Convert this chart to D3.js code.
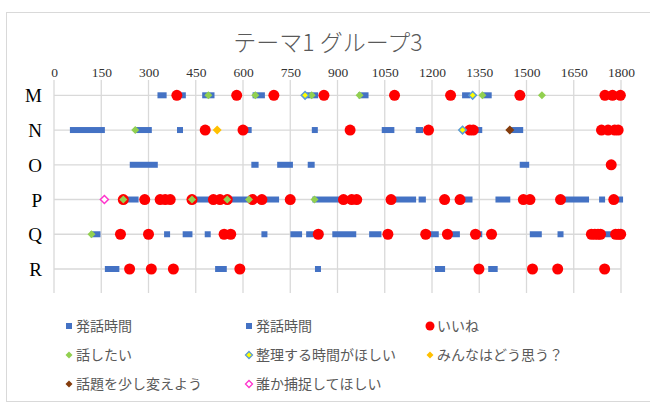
<!DOCTYPE html>
<meta charset="utf-8">
<script src="https://d3js.org/d3.v7.min.js"></script>
<style>
  body { margin: 0; background: #fff; }
</style>
<body>
<div id="my_dataviz"></div>
<script>

// categories (rows) and x ticks
var categories = ["M", "N", "O", "P", "Q", "R"];
var xTicks = [0, 150, 300, 450, 600, 750, 900, 1050, 1200, 1350, 1500, 1650, 1800];

// 発話時間 : [row, start, end]
var speechA = [
  ["M", 338, 348], ["M", 395, 409], ["M", 480, 500], ["M", 640, 660], ["M", 805, 829],
  ["M", 975, 989], ["M", 1305, 1312], ["M", 1370, 1380],
  ["N", 60, 152], ["N", 265, 301], ["N", 400, 400], ["N", 600, 618], ["N", 828, 828],
  ["N", 1050, 1071], ["N", 1158, 1162], ["N", 1330, 1350], ["N", 1452, 1480],
  ["O", 250, 320], ["O", 636, 640], ["O", 718, 749], ["O", 815, 818], ["O", 1488, 1499]
];
var speechB = [
  ["P", 225, 259], ["P", 440, 705], ["P", 830, 935], ["P", 1070, 1140], ["P", 1167, 1171],
  ["P", 1290, 1319], ["P", 1411, 1439], ["P", 1620, 1689], ["P", 1740, 1740], ["P", 1777, 1797],
  ["Q", 125, 138], ["Q", 359, 359], ["Q", 418, 430], ["Q", 488, 488], ["Q", 668, 668],
  ["Q", 760, 778], ["Q", 810, 845], ["Q", 893, 950], ["Q", 1010, 1030], ["Q", 1190, 1212],
  ["Q", 1255, 1279], ["Q", 1338, 1350], ["Q", 1520, 1539], ["Q", 1608, 1608], ["Q", 1735, 1775],
  ["R", 171, 198], ["R", 521, 539], ["R", 838, 838], ["R", 1219, 1232], ["R", 1388, 1399]
];

// いいね
var likes = [
  ["M", 390], ["M", 580], ["M", 698], ["M", 857], ["M", 1081], ["M", 1259], ["M", 1479], ["M", 1749], ["M", 1773], ["M", 1798],
  ["N", 480], ["N", 600], ["N", 940], ["N", 1189], ["N", 1320], ["N", 1331], ["N", 1738], ["N", 1759], ["N", 1780], ["N", 1791],
  ["O", 1769],
  ["P", 220], ["P", 288], ["P", 337], ["P", 353], ["P", 369], ["P", 438], ["P", 506], ["P", 527], ["P", 550], ["P", 630],
  ["P", 660], ["P", 750], ["P", 919], ["P", 945], ["P", 961], ["P", 1070], ["P", 1240], ["P", 1289], ["P", 1490], ["P", 1511],
  ["P", 1608], ["P", 1777],
  ["Q", 211], ["Q", 300], ["Q", 540], ["Q", 561], ["Q", 839], ["Q", 1060], ["Q", 1180], ["Q", 1249], ["Q", 1338], ["Q", 1389],
  ["Q", 1706], ["Q", 1717], ["Q", 1727], ["Q", 1735], ["Q", 1783], ["Q", 1792], ["Q", 1799],
  ["R", 240], ["R", 309], ["R", 379], ["R", 590], ["R", 1349], ["R", 1519], ["R", 1599], ["R", 1748]
];
// 話したい
var wantTalk = [["M", 490], ["M", 639], ["M", 818], ["M", 970], ["M", 1360], ["M", 1549],
  ["N", 258], ["P", 220], ["P", 438], ["P", 550], ["P", 619], ["P", 827], ["Q", 119]];
// 整理する時間がほしい
var wantTime = [["M", 797], ["M", 1329], ["N", 1297]];
// みんなはどう思う？
var askAll = [["N", 518]];
// 話題を少し変えよう
var changeTopic = [["N", 1447]];
// 誰か捕捉してほしい
var needHelp = [["P", 160]];

var W = 650, H = 403;
var svg = d3.select("#my_dataviz").append("svg")
  .attr("width", W).attr("height", H)
  .style("font-family", "'Noto Sans CJK JP', 'Noto Sans', sans-serif");

// chart border
svg.append("rect").attr("x", 6.5).attr("y", 12.5).attr("width", 660).attr("height", 389)
  .attr("fill", "#fff").attr("stroke", "#d9d9d9");

svg.append("text").attr("x", 328).attr("y", 51).attr("text-anchor", "middle")
  .attr("font-size", 23).attr("fill", "#595959").attr("font-weight", 300)
  .text("テーマ1  グループ3");

var plotTop = 80, plotBottom = 293;
var x = d3.scaleLinear().domain([0, 1800]).range([54, 621]);
var y = d3.scalePoint().domain(categories).range([95.3, 269]);

// grid
svg.append("g").selectAll("line").data(xTicks).enter().append("line")
  .attr("x1", function(d) { return x(d); }).attr("x2", function(d) { return x(d); })
  .attr("y1", plotTop).attr("y2", plotBottom)
  .attr("stroke", "#d9d9d9").attr("stroke-width", 1.3);
svg.append("g").selectAll("line").data(categories).enter().append("line")
  .attr("x1", x(0)).attr("x2", x(1800))
  .attr("y1", function(d) { return y(d); }).attr("y2", function(d) { return y(d); })
  .attr("stroke", "#d9d9d9").attr("stroke-width", 1.3);

// top axis labels
var xAxis = svg.append("g").attr("transform", "translate(0," + plotTop + ")")
  .call(d3.axisTop(x).tickValues(xTicks).tickFormat(d3.format("d")).tickSize(0).tickPadding(3));
xAxis.select(".domain").remove();
xAxis.selectAll("text").style("font-family", "'Liberation Serif', serif")
  .attr("font-size", 13.5).attr("fill", "#333");

var yAxis = svg.append("g").attr("transform", "translate(42,0)")
  .call(d3.axisLeft(y).tickSize(0).tickPadding(0));
yAxis.select(".domain").remove();
yAxis.selectAll("text").style("font-family", "'Liberation Serif', serif")
  .attr("font-size", 19).attr("fill", "#000").attr("dy", "0.35em");

var blue = "#4472c4";
function drawSpeech(data) {
  svg.append("g").selectAll("rect").data(data).enter().append("rect")
    .attr("x", function(d) { return x(d[1]) - 3; })
    .attr("y", function(d) { return y(d[0]) - 3; })
    .attr("width", function(d) { return x(d[2]) - x(d[1]) + 6; })
    .attr("height", 6)
    .attr("fill", blue);
}
drawSpeech(speechA);
drawSpeech(speechB);

svg.append("g").selectAll("circle").data(likes).enter().append("circle")
  .attr("cx", function(d) { return x(d[1]); })
  .attr("cy", function(d) { return y(d[0]); })
  .attr("r", 5.5).attr("fill", "#ff0000");

function diamond(cx, cy, r) {
  return "M" + cx + "," + (cy - r) + "L" + (cx + r) + "," + cy + "L" + cx + "," + (cy + r) + "L" + (cx - r) + "," + cy + "Z";
}
function drawDiamonds(data, r, fill, stroke, sw) {
  svg.append("g").selectAll("path").data(data).enter().append("path")
    .attr("d", function(d) { return diamond(x(d[1]), y(d[0]), r); })
    .attr("fill", fill).attr("stroke", stroke).attr("stroke-width", sw);
}
drawDiamonds(wantTalk, 4, "#92d050", "none", 0);
drawDiamonds(wantTime, 3.8, "#ffff00", "#5b9bd5", 1.5);
drawDiamonds(askAll, 4.5, "#ffc000", "none", 0);
drawDiamonds(changeTopic, 4.5, "#843c0c", "none", 0);
drawDiamonds(needHelp, 4, "#fff", "#ff33cc", 1.5);

// legend
var legendItems = [
  {label: "発話時間", type: "square", fill: blue},
  {label: "発話時間", type: "square", fill: blue},
  {label: "いいね", type: "circle", fill: "#ff0000"},
  {label: "話したい", type: "diamond", fill: "#92d050", stroke: "none"},
  {label: "整理する時間がほしい", type: "diamond", fill: "#ffff00", stroke: "#5b9bd5"},
  {label: "みんなはどう思う？", type: "diamond", fill: "#ffc000", stroke: "none"},
  {label: "話題を少し変えよう", type: "diamond", fill: "#843c0c", stroke: "none"},
  {label: "誰か捕捉してほしい", type: "diamond", fill: "#fff", stroke: "#ff33cc"}
];
var colX = [69, 249, 430], rowY = [326, 355, 384];
var lg = svg.append("g").selectAll("g").data(legendItems).enter().append("g")
  .attr("transform", function(d, i) { return "translate(" + colX[i % 3] + "," + rowY[Math.floor(i / 3)] + ")"; });
lg.each(function(d) {
  var g = d3.select(this);
  if (d.type == "square") g.append("rect").attr("x", -3).attr("y", -3).attr("width", 6).attr("height", 6).attr("fill", d.fill);
  else if (d.type == "circle") g.append("circle").attr("r", 4.5).attr("fill", d.fill);
  else g.append("path").attr("d", diamond(0, 0, 3.5)).attr("fill", d.fill).attr("stroke", d.stroke).attr("stroke-width", 1.3);
});
lg.append("text").attr("x", 7).attr("dy", "0.36em")
  .attr("font-size", 14).attr("fill", "#595959")
  .text(function(d) { return d.label; });

</script>
</body>
